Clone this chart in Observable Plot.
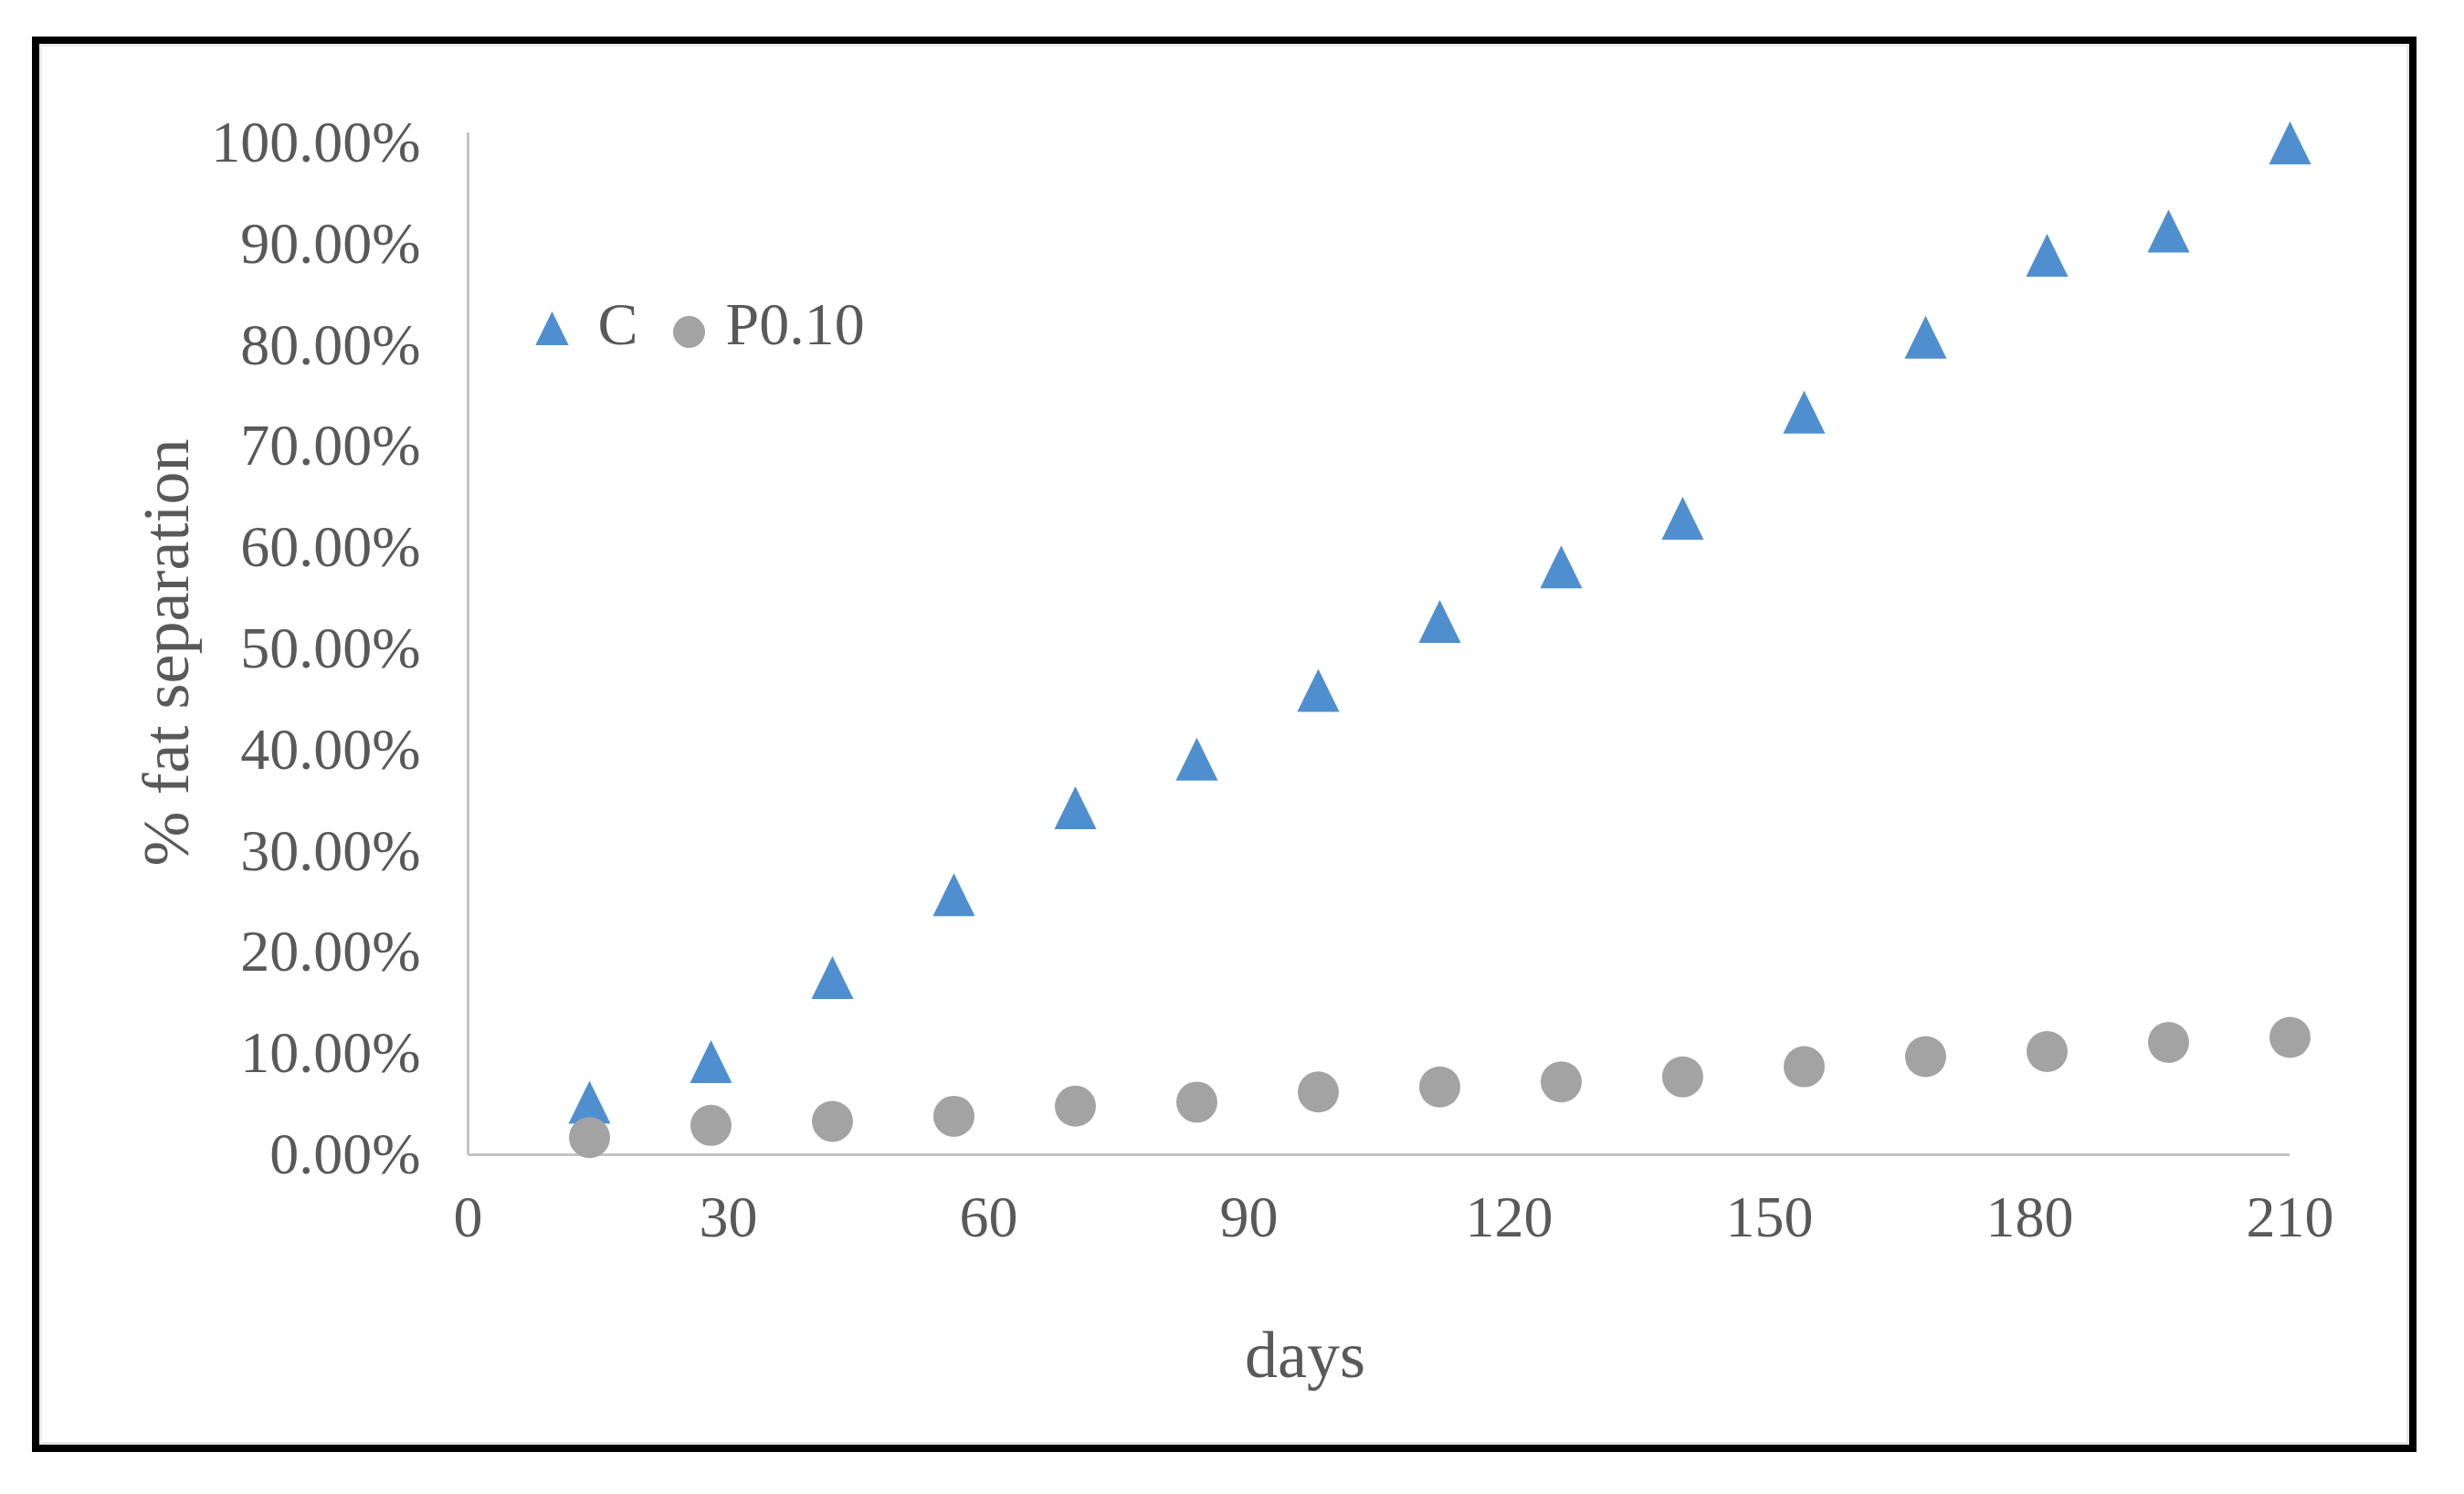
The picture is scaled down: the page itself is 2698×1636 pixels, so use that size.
<!DOCTYPE html>
<html>
<head>
<meta charset="utf-8">
<script src="https://cdn.jsdelivr.net/npm/d3@7"></script>
<script src="https://cdn.jsdelivr.net/npm/@observablehq/plot@0.6"></script>
<style>
  html, body { margin: 0; padding: 0; background: #fff; }
  #wrap { position: relative; width: 2698px; height: 1636px; overflow: hidden; }
  #frame { position: absolute; left: 35px; top: 40px; width: 2611px; height: 1550px; box-sizing: border-box; border: 8px solid #000; pointer-events: none; }
  #inner { position: absolute; left: 43px; top: 48px; width: 2595px; height: 1534px; box-sizing: border-box; border: 3px solid #e4e4e4; border-top-color: #ededed; border-left-color: #ededed; pointer-events: none; }
  #chart { position: absolute; left: 0; top: 0; }
</style>
</head>
<body>
<div id="wrap"><div id="chart"></div><div id="inner"></div><div id="frame"></div></div>
<script>
// ---- data ----
const days = [14, 28, 42, 56, 70, 84, 98, 112, 126, 140, 154, 168, 182, 196, 210];
const seriesC = [5.2, 9.2, 17.5, 25.7, 34.3, 39.1, 45.9, 52.7, 58.1, 62.9, 73.4, 80.8, 88.9, 91.3, 100];
const seriesP010 = [1.7, 2.9, 3.3, 3.8, 4.8, 5.2, 6.2, 6.7, 7.2, 7.7, 8.7, 9.7, 10.2, 11.1, 11.6];
const seriesNames = ["C", "P0.10"];
const xTicks = [0, 30, 60, 90, 120, 150, 180, 210];
const yTicks = [0, 10, 20, 30, 40, 50, 60, 70, 80, 90, 100];
const xTitle = "days";
const yTitle = "% fat separation";

const blue = "#4f8fd0";
const gray = "#a3a3a3";
const textColor = "#595959";
const axisColor = "#c4c4c4";
const font = "'Liberation Serif', 'DejaVu Serif', serif";

const dataC = days.map((d, i) => ({day: d, value: seriesC[i]}));
const dataP = days.map((d, i) => ({day: d, value: seriesP010[i]}));

// Excel-like triangle marker (bbox centred), width ~ 2r, height ~ 2r
const tri = {
  draw(ctx, size) {
    const r = Math.sqrt(size / Math.PI);
    ctx.moveTo(0, -r);
    ctx.lineTo(r * 0.98, r);
    ctx.lineTo(-r * 0.98, r);
    ctx.closePath();
  }
};

const W = 2698, H = 1636;
const chart = Plot.plot({
  width: W,
  height: H,
  marginLeft: 512,
  marginRight: 191,
  marginTop: 156,
  marginBottom: 372,
  style: {fontFamily: font, background: "transparent", overflow: "visible"},
  x: {domain: [0, 210], ticks: xTicks, label: null},
  y: {domain: [0, 100], ticks: yTicks, label: null},
  marks: [
    Plot.ruleY([0], {stroke: axisColor, strokeWidth: 3, x1: 0, x2: 210}),
    Plot.ruleX([0], {stroke: axisColor, strokeWidth: 3, y1: 0, y2: 101}),
    Plot.axisY({ticks: yTicks, tickSize: 0, tickPadding: 52, tickFormat: d => d.toFixed(2) + "%", fontSize: 64, fill: textColor, label: null}),
    Plot.axisX({ticks: xTicks, tickSize: 0, tickPadding: 44, fontSize: 64, fill: textColor, label: null}),
    Plot.dot(dataC, {x: "day", y: "value", symbol: tri, r: 23.5, fill: blue, stroke: "none"}),
    Plot.dot(dataP, {x: "day", y: "value", symbol: "circle", r: 22.5, fill: gray, stroke: "none"}),
    // axis titles
    Plot.text([xTitle], {text: d => d, frameAnchor: "bottom", textAnchor: "middle", lineAnchor: "middle", dx: -81, dy: 220, fontSize: 72, fill: textColor}),
    Plot.text([yTitle], {text: d => d, frameAnchor: "left", textAnchor: "middle", lineAnchor: "middle", dx: -330, dy: 4, rotate: -90, fontSize: 72, fill: textColor}),
    // legend
    Plot.dot([seriesNames[0]], {frameAnchor: "top-left", dx: 92, dy: 203, symbol: tri, r: 18.5, fill: blue, stroke: "none"}),
    Plot.text([seriesNames[0]], {text: d => d, frameAnchor: "top-left", dx: 142, dy: 199, textAnchor: "start", lineAnchor: "middle", fontSize: 66, fill: textColor}),
    Plot.dot([seriesNames[1]], {frameAnchor: "top-left", dx: 242, dy: 207, symbol: "circle", r: 17.5, fill: gray, stroke: "none"}),
    Plot.text([seriesNames[1]], {text: d => d, frameAnchor: "top-left", dx: 282, dy: 199, textAnchor: "start", lineAnchor: "middle", fontSize: 66, fill: textColor})
  ]
});
document.getElementById("chart").appendChild(chart);
</script>
</body>
</html>
